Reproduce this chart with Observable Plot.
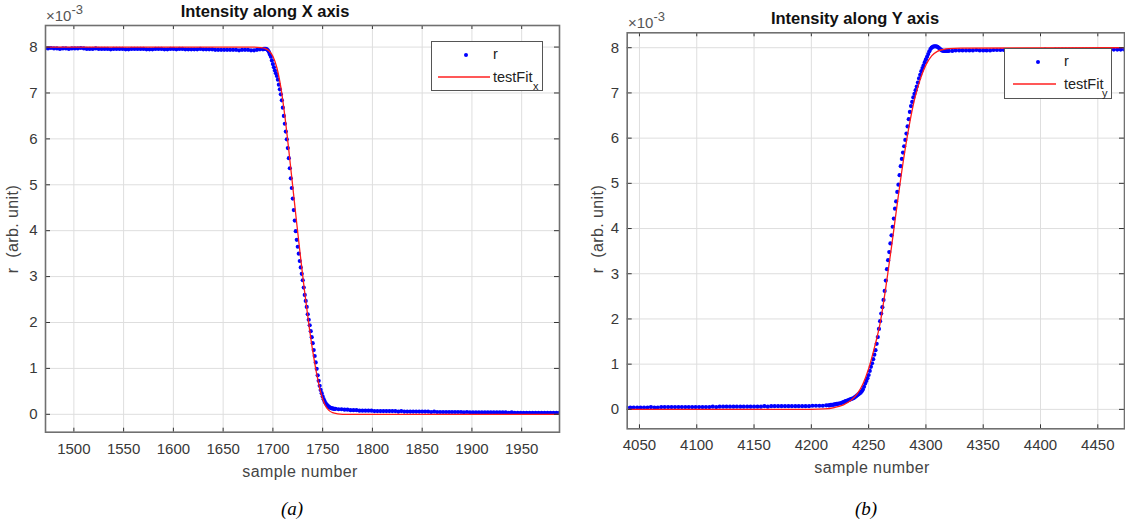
<!DOCTYPE html>
<html>
<head>
<meta charset="utf-8">
<script src="https://cdn.jsdelivr.net/npm/d3@7"></script>
<script src="https://cdn.jsdelivr.net/npm/@observablehq/plot@0.6"></script>
<style>
  body { margin: 0; background: #fff; }
  #wrap { position: relative; width: 1125px; height: 527px; overflow: hidden; background: #fff;
          font-family: "Liberation Sans", Arial, sans-serif; color: #333; }
  #wrap > svg { position: absolute; top: 0; }
  .t { position: absolute; white-space: nowrap; transform: translate(-50%, -50%); }
  .title { font-weight: bold; font-size: 16.5px; color: #111; }
  .xlab { font-size: 16px; color: #444; letter-spacing: 0.4px; }
  .ylab { font-size: 16px; color: #444; transform: translate(-50%, -50%) rotate(-90deg); letter-spacing: 0.4px; }
  .cap { font-family: "Liberation Serif", "Times New Roman", serif; font-style: italic; font-size: 19px; color: #000; }
  .exp { position: absolute; font-size: 15px; color: #555; white-space: nowrap; line-height: 1; }
  .exp span { position: relative; font-size: 13px; top: -7px; }
  .legend { position: absolute; background: #fff; border: 1.4px solid #555; box-sizing: border-box; }
  .legend svg { position: absolute; left: 0; top: 0; }
  .legend .lt { position: absolute; font-size: 14.5px; color: #222; white-space: nowrap; line-height: 1; }
  .legend .sub { position: absolute; font-size: 11px; color: #222; line-height: 1; }
</style>
</head>
<body>
<div id="wrap"></div>
<script>
// ---------------- data (values in units of 1e-3) ----------------
const yTicks = [0, 1, 2, 3, 4, 5, 6, 7, 8];
const xTicksX = [1500, 1550, 1600, 1650, 1700, 1750, 1800, 1850, 1900, 1950];
const xTicksY = [4050, 4100, 4150, 4200, 4250, 4300, 4350, 4400, 4450];
const xLimX = [1471.5, 1988];
const yLimX = [-0.39, 8.47];
const xLimY = [4039.3, 4473.3];
const yLimY = [-0.43, 8.33];

// Panel (a): measured r, sample numbers 1471.. step 3
const rX_headStart = 1471, rX_headStep = 3;
const rX_head = [7.97,7.97,7.98,7.97,7.97,7.96,7.97,7.97,7.96,7.97,
  7.97,7.97,7.98,7.97,7.96,7.96,7.96,7.97,7.96,7.96,
  7.96,7.96,7.95,7.96,7.96,7.96,7.96,7.95,7.95,7.96,
  7.96,7.96,7.96,7.96,7.95,7.95,7.95,7.96,7.96,7.96,
  7.95,7.95,7.96,7.96,7.95,7.96,7.96,7.95,7.95,7.95,
  7.95,7.95,7.96,7.95,7.95,7.95,7.95,7.94,7.94,7.94,
  7.94,7.94,7.94,7.94,7.94,7.93,7.94,7.94,7.94,7.93,
  7.93,7.94,7.95];
// Panel (a): edge, every sample from 1690
const rX_edgeStart = 1690, rX_edgeStep = 1;
const rX_edge = [7.95,7.96,7.96,7.96,7.95,7.93,7.89,7.84,7.79,7.71,
  7.63,7.56,7.49,7.43,7.37,7.29,7.18,7.08,6.97,6.84,
  6.68,6.50,6.33,6.16,5.99,5.80,5.58,5.36,5.14,4.93,
  4.70,4.45,4.22,3.99,3.80,3.65,3.50,3.34,3.20,3.06,
  2.92,2.76,2.60,2.47,2.34,2.18,2.06,1.94,1.81,1.68,
  1.55,1.40,1.27,1.13,0.99,0.85,0.73,0.62,0.53,0.46,
  0.39,0.33,0.28,0.24,0.21,0.19,0.17,0.15,0.14,0.13,
  0.13,0.12,0.12];
// Panel (a): tail, from 1763 step 3
const rX_tailStart = 1763, rX_tailStep = 3;
const rX_tail = [0.12,0.11,0.11,0.10,0.10,0.09,0.09,0.09,0.08,0.08,
  0.08,0.08,0.08,0.07,0.07,0.07,0.07,0.07,0.07,0.07,
  0.07,0.06,0.07,0.06,0.06,0.06,0.06,0.06,0.06,0.06,
  0.06,0.06,0.05,0.06,0.05,0.05,0.05,0.05,0.05,0.05,
  0.05,0.05,0.05,0.04,0.05,0.04,0.04,0.04,0.04,0.04,
  0.04,0.04,0.04,0.04,0.04,0.04,0.04,0.04,0.03,0.04,
  0.03,0.03,0.03,0.03,0.03,0.03,0.03,0.03,0.03,0.03,
  0.03,0.03,0.03,0.03,0.03,0.03];
// Panel (a): fit
const fitX_s = [1471,1600,1680,1688,1692,1696,1700,1704,1708,1712,1716,1720,1724,1728,1732,1736,1740,1744,1748,1752,1756,1760,1765,1770,1780,1988];
const fitX_v = [8.00,8.00,8.00,7.99,7.97,7.92,7.80,7.55,7.12,6.50,5.75,4.95,4.15,3.38,2.65,1.98,1.38,0.88,0.48,0.22,0.09,0.035,0.01,0.0,0.0,0.0];

// Panel (b): measured r, from 4039 step 3
const rY_headStart = 4039, rY_headStep = 3;
const rY_head = [0.04,0.04,0.04,0.04,0.04,0.04,0.04,0.05,0.04,0.04,
  0.05,0.05,0.05,0.05,0.05,0.05,0.05,0.05,0.05,0.05,
  0.05,0.05,0.05,0.05,0.05,0.06,0.05,0.06,0.06,0.06,
  0.06,0.06,0.06,0.06,0.06,0.06,0.06,0.06,0.06,0.06,
  0.07,0.06,0.07,0.07,0.07,0.07,0.07,0.07,0.07,0.07,
  0.07,0.07,0.07,0.07,0.08,0.08,0.08,0.08,0.09];
// Panel (b): edge, every sample from 4215
const rY_edgeStart = 4215, rY_edgeStep = 1;
const rY_edge = [0.09,0.09,0.10,0.10,0.10,0.11,0.11,0.12,0.12,0.13,
  0.13,0.14,0.15,0.16,0.17,0.18,0.19,0.20,0.21,0.22,
  0.23,0.24,0.25,0.27,0.29,0.31,0.33,0.35,0.37,0.40,
  0.44,0.50,0.57,0.63,0.69,0.76,0.85,0.94,1.02,1.11,
  1.21,1.31,1.45,1.60,1.78,1.95,2.12,2.26,2.42,2.62,
  2.85,3.10,3.30,3.48,3.67,3.85,4.04,4.22,4.44,4.60,
  4.81,4.97,5.18,5.38,5.54,5.68,5.82,5.96,6.10,6.26,
  6.42,6.58,6.71,6.80,6.90,6.98,7.06,7.14,7.23,7.32,
  7.40,7.48,7.55,7.61,7.68,7.74,7.80,7.86,7.92,7.97,
  8.00,8.02,8.03,8.03,8.03,8.02,8.00,7.98,7.96,7.94,
  7.93,7.93,7.93,7.93,7.93,7.93];
// Panel (b): tail, from 4323 step 3
const rY_tailStart = 4323, rY_tailStep = 3;
const rY_tail = [7.93,7.94,7.94,7.94,7.94,7.94,7.94,7.95,7.94,7.94,
  7.94,7.94,7.95,7.95,7.95,7.95,7.95,7.95,7.95,7.95,
  7.95,7.95,7.95,7.95,7.95,7.95,7.95,7.96,7.95,7.95,
  7.96,7.96,7.96,7.96,7.96,7.96,7.96,7.96,7.96,7.96,
  7.96,7.96,7.96,7.96,7.96,7.96,7.96,7.96,7.96,7.96,7.96];
// Panel (b): fit
const fitY_s = [4039,4200,4212,4220,4228,4234,4240,4245,4250,4255,4260,4265,4270,4275,4280,4285,4290,4295,4300,4305,4310,4315,4320,4330,4473];
const fitY_v = [0.0,0.0,0.01,0.04,0.10,0.19,0.34,0.56,0.90,1.36,1.90,2.70,3.60,4.55,5.45,6.22,6.85,7.30,7.62,7.82,7.92,7.96,7.98,7.99,8.0];

// ---------------- drawing ----------------
function seg(start, step, vals) { return vals.map((v, i) => ({s: start + i * step, v})); }

function panel(o) {
  const innerH = o.height - o.mt - o.mb;
  const innerW = o.width - o.ml - o.mr;
  const pts = [...seg(...o.head), ...seg(...o.edge), ...seg(...o.tail)];
  const fit = o.fitS.map((s, i) => ({s, v: o.fitV[i]}));
  const tk = "#333";
  return Plot.plot({
    width: o.width, height: o.height,
    marginTop: o.mt, marginRight: o.mr, marginBottom: o.mb, marginLeft: o.ml,
    x: {domain: o.xDomain},
    y: {domain: o.yDomain},
    style: {fontFamily: '"Liberation Sans", Arial, sans-serif', fontSize: "15px", color: "#383838", background: "transparent", overflow: "visible"},
    marks: [
      Plot.gridX(o.xTicks, {stroke: "#dedede", strokeOpacity: 1, strokeWidth: 1}),
      Plot.gridY(yTicks, {stroke: "#dedede", strokeOpacity: 1, strokeWidth: 1}),
      Plot.dot(pts, {x: "s", y: "v", r: 2.1, fill: "#0000ff", stroke: null, clip: true}),
      Plot.line(fit, {x: "s", y: "v", stroke: "#ff1a1a", strokeWidth: 1.3, curve: "monotone-x", clip: true}),
      Plot.ruleX(o.xTicks, {stroke: tk, insetTop: innerH - 4}),
      Plot.ruleX(o.xTicks, {stroke: tk, insetBottom: innerH - 4}),
      Plot.ruleY(yTicks, {stroke: tk, insetRight: innerW - 5}),
      Plot.ruleY(yTicks, {stroke: tk, insetLeft: innerW - 5}),
      Plot.axisX(o.xTicks, {tickSize: 0, tickPadding: 11, label: null, tickFormat: d => String(d)}),
      Plot.axisY(yTicks, {tickSize: 0, tickPadding: 8, label: null, tickFormat: d => String(d)}),
      Plot.frame({stroke: "#707070", strokeWidth: 1.6})
    ]
  });
}

const wrap = document.getElementById("wrap");

const svgA = panel({
  width: 570, height: 527, mt: 25, mr: 11, mb: 95.3, ml: 45,
  xDomain: xLimX, yDomain: yLimX, xTicks: xTicksX,
  head: [rX_headStart, rX_headStep, rX_head],
  edge: [rX_edgeStart, rX_edgeStep, rX_edge],
  tail: [rX_tailStart, rX_tailStep, rX_tail],
  fitS: fitX_s, fitV: fitX_v
});
svgA.style.left = "0px";
wrap.appendChild(svgA);

const svgB = panel({
  width: 555, height: 527, mt: 32.3, mr: 1, mb: 98.7, ml: 56.7,
  xDomain: xLimY, yDomain: yLimY, xTicks: xTicksY,
  head: [rY_headStart, rY_headStep, rY_head],
  edge: [rY_edgeStart, rY_edgeStep, rY_edge],
  tail: [rY_tailStart, rY_tailStep, rY_tail],
  fitS: fitY_s, fitV: fitY_v
});
svgB.style.left = "570px";
wrap.appendChild(svgB);

// ---------------- text & legends ----------------
function addText(cls, html, x, y) {
  const d = document.createElement("div");
  d.className = "t " + cls;
  d.innerHTML = html;
  d.style.left = x + "px"; d.style.top = y + "px";
  wrap.appendChild(d);
}
function addExp(x, y) {
  const d = document.createElement("div");
  d.className = "exp";
  d.innerHTML = "×10<span>-3</span>";
  d.style.left = x + "px"; d.style.top = y + "px";
  wrap.appendChild(d);
}
function addLegend(x, y, w, h, sub, o) {
  const d = document.createElement("div");
  d.className = "legend";
  d.style.left = x + "px"; d.style.top = y + "px";
  d.style.width = w + "px"; d.style.height = h + "px";
  d.innerHTML =
    `<svg width="${w}" height="${h}"><circle cx="${o.dotX}" cy="${o.dotY}" r="2" fill="#0000ff"/>` +
    `<line x1="${o.l1}" x2="${o.l2}" y1="${o.lineY}" y2="${o.lineY}" stroke="#ff2020" stroke-width="1.3"/></svg>` +
    `<div class="lt" style="left:${o.txtX}px;top:${o.rY}px">r</div>` +
    `<div class="lt" style="left:${o.txtX}px;top:${o.fY}px">testFit</div>` +
    `<div class="sub" style="left:${o.subX}px;top:${o.subY}px">${sub}</div>`;
  wrap.appendChild(d);
}

addText("title", "Intensity along X axis", 265, 11);
addText("title", "Intensity along Y axis", 855, 18);
addExp(46, 8);
addExp(628, 15);
addText("ylab", "r&nbsp;&nbsp;(arb. unit)", 13, 229);
addText("ylab", "r&nbsp;&nbsp;(arb. unit)", 598, 229);
addText("xlab", "sample number", 300, 472);
addText("xlab", "sample number", 872, 468);
addText("cap", "(a)", 292, 509);
addText("cap", "(b)", 866, 509);

addLegend(431, 40.7, 112, 50, "x",
  {dotX: 34, dotY: 13, txtX: 61, rY: 5, l1: 6, l2: 58, lineY: 35, fY: 28, subX: 101, subY: 39});
addLegend(1004, 48, 108, 51, "y",
  {dotX: 33, dotY: 13, txtX: 59, rY: 5, l1: 8, l2: 51, lineY: 35, fY: 28, subX: 97, subY: 39});
</script>
</body>
</html>
